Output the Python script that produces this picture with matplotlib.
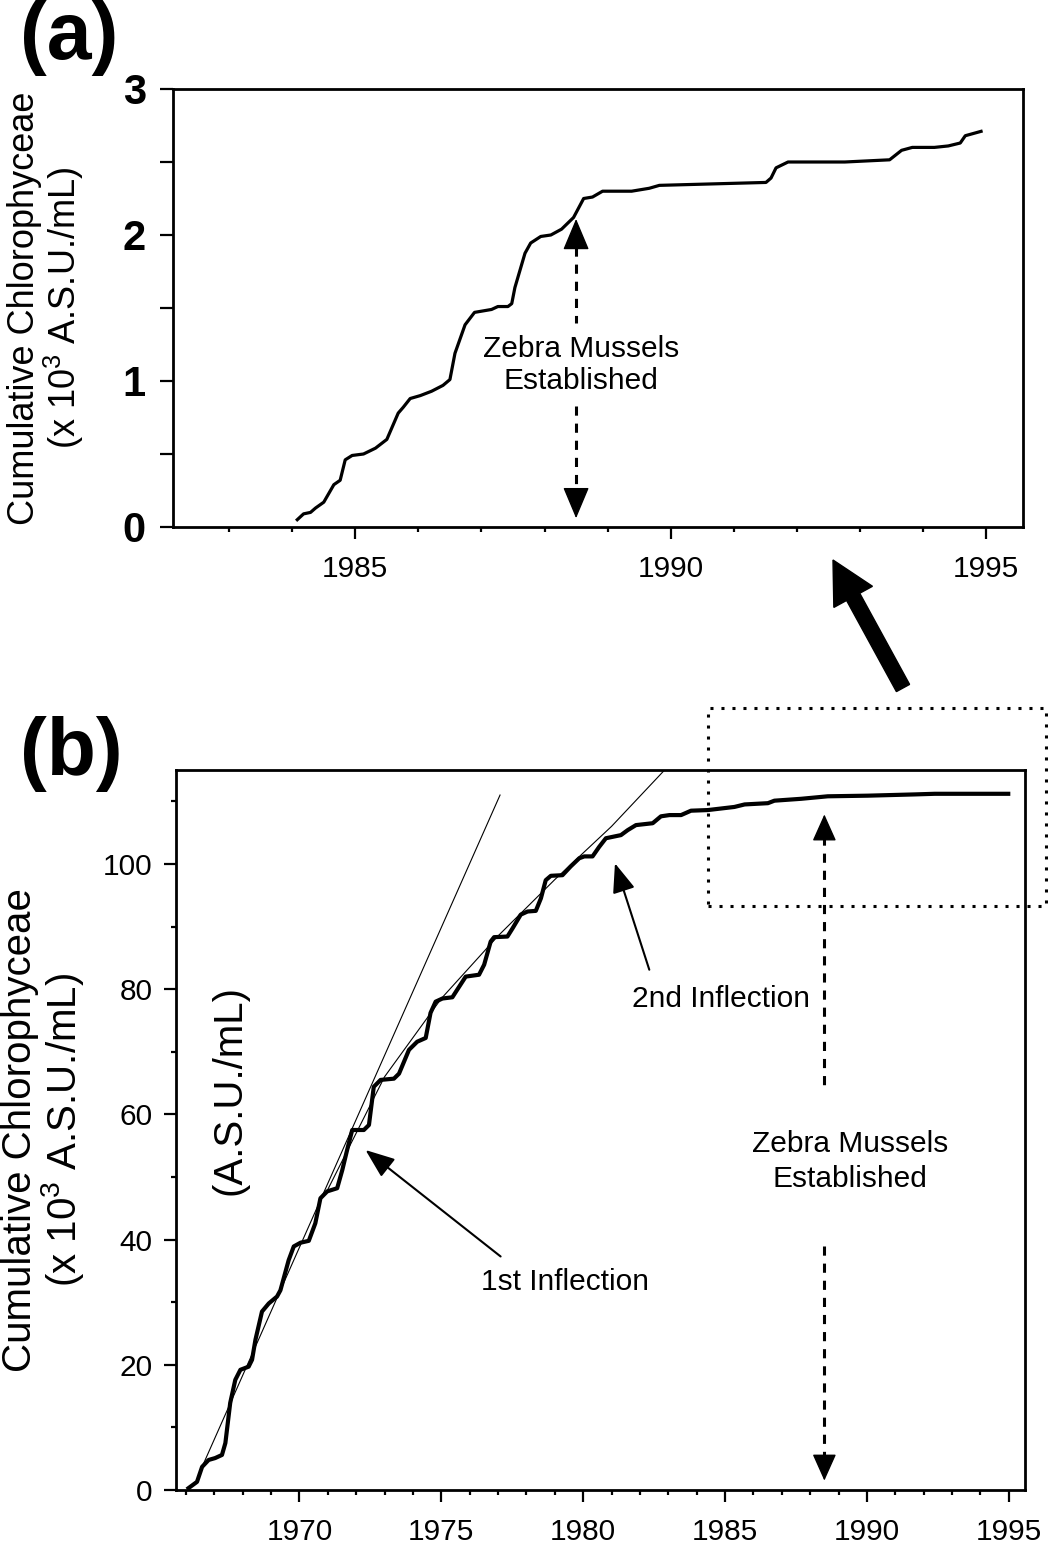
import matplotlib
matplotlib.use('Agg')
from matplotlib import pyplot as plt
from matplotlib.ticker import MultipleLocator
from matplotlib.patches import Rectangle, FancyArrow

plt.rcParams['font.family'] = ['Liberation Sans', 'DejaVu Sans']
plt.rcParams['mathtext.fontset'] = 'custom'
plt.rcParams['mathtext.rm'] = 'Liberation Sans'
plt.rcParams['mathtext.it'] = 'Liberation Sans'
plt.rcParams['mathtext.default'] = 'regular'

# (a) cumulative Chlorophyceae 1984-1995, x 10^3 A.S.U./mL
top_years = [1984.08, 1984.18, 1984.29, 1984.37, 1984.50, 1984.66, 1984.76, 1984.84,
             1984.95, 1985.13, 1985.32, 1985.50, 1985.68, 1985.76, 1985.87, 1986.03,
             1986.21, 1986.39, 1986.50, 1986.58, 1986.74, 1986.89, 1987.16, 1987.26,
             1987.42, 1987.48, 1987.53, 1987.69, 1987.78, 1987.94, 1988.10, 1988.27,
             1988.46, 1988.62, 1988.76, 1988.92, 1989.38, 1989.66, 1989.82, 1991.51,
             1991.59, 1991.67, 1991.86, 1992.76, 1993.47, 1993.66, 1993.83, 1994.18,
             1994.40, 1994.59, 1994.67, 1994.92]
top_vals = [0.05, 0.09, 0.10, 0.13, 0.17, 0.29, 0.32, 0.46,
            0.49, 0.50, 0.54, 0.60, 0.78, 0.82, 0.88, 0.90,
            0.93, 0.97, 1.01, 1.19, 1.385, 1.47, 1.49, 1.51,
            1.51, 1.53, 1.64, 1.875, 1.945, 1.99, 2.00, 2.04,
            2.12, 2.25, 2.26, 2.30, 2.30, 2.32, 2.34, 2.36,
            2.39, 2.46, 2.50, 2.50, 2.515, 2.58, 2.60, 2.60,
            2.61, 2.63, 2.68, 2.71]

# (b) cumulative Chlorophyceae 1966-1995
bot_years = [1966.09, 1966.39, 1966.57, 1966.80, 1967.03, 1967.27, 1967.39, 1967.56,
             1967.74, 1967.92, 1968.21, 1968.33, 1968.45, 1968.68, 1968.92, 1969.21,
             1969.33, 1969.62, 1969.80, 1970.04, 1970.33, 1970.56, 1970.74, 1970.98,
             1971.33, 1971.51, 1971.68, 1971.86, 1972.27, 1972.45, 1972.62, 1972.86,
             1973.33, 1973.51, 1973.86, 1974.15, 1974.45, 1974.62, 1974.80, 1975.04,
             1975.39, 1975.56, 1975.86, 1976.33, 1976.51, 1976.74, 1976.86, 1977.33,
             1977.51, 1977.80, 1978.04, 1978.33, 1978.51, 1978.68, 1978.86, 1979.27,
             1979.56, 1979.86, 1980.04, 1980.33, 1980.56, 1980.80, 1981.33, 1981.57,
             1981.86, 1982.45, 1982.74, 1983.04, 1983.45, 1983.80, 1984.39, 1985.33,
             1985.69, 1986.51, 1986.74, 1987.68, 1988.62, 1990.03, 1991.68, 1992.39,
             1994.98]
bot_vals = [0.3, 1.3, 3.7, 4.8, 5.1, 5.6, 7.5, 13.9,
            17.6, 19.2, 19.7, 20.8, 24.0, 28.5, 29.8, 30.9,
            31.9, 36.7, 38.9, 39.5, 39.8, 42.6, 46.6, 47.7,
            48.2, 51.1, 54.3, 57.5, 57.5, 58.3, 64.4, 65.5,
            65.7, 66.5, 70.3, 71.6, 72.2, 76.2, 78.0, 78.5,
            78.7, 79.9, 82.0, 82.3, 83.9, 87.6, 88.3, 88.4,
            89.7, 91.9, 92.4, 92.5, 94.5, 97.4, 98.1, 98.2,
            99.6, 100.9, 101.2, 101.2, 102.7, 104.1, 104.6, 105.4,
            106.2, 106.5, 107.6, 107.8, 107.8, 108.5, 108.6, 109.1,
            109.5, 109.7, 110.1, 110.4, 110.8, 110.9, 111.1, 111.2,
            111.2]

# thin fitted lines
fit1_years = [1966.6, 1977.07]
fit1_vals = [4.0, 111.0]
fit2_years = [1971.0, 1973.0, 1975.0, 1977.0, 1979.0, 1981.0, 1982.87]
fit2_vals = [48.0, 66.0, 78.5, 88.5, 97.5, 106.0, 115.0]

zm_year = 1988.5
ylab = 'Cumulative Chlorophyceae\n(x 10$^3$ A.S.U./mL)'

fig = plt.figure(figsize=(10.48, 15.54), dpi=100)
W, H = 1048, 1554

ax_a = fig.add_axes([173 / W, 1 - 527 / H, 849.7 / W, 438 / H])
ax_b = fig.add_axes([176 / W, 1 - 1490 / H, 848.7 / W, 720 / H])

for ax in (ax_a, ax_b):
    for s in ax.spines.values():
        s.set_linewidth(2.0)
    ax.xaxis.set_major_locator(MultipleLocator(5))
    ax.xaxis.set_minor_locator(MultipleLocator(1))
    ax.tick_params(which='both', direction='out', width=1.6, top=False, right=False)
    ax.tick_params(axis='x', which='major', length=8.5, pad=12, labelsize=21.5)
    ax.tick_params(axis='x', which='minor', length=3.5)

# ---- panel (a)
ax_a.plot(top_years, top_vals, color='k', lw=2.3)
ax_a.set_xlim(1982.11, 1995.58)
ax_a.set_ylim(0, 3)
ax_a.yaxis.set_major_locator(MultipleLocator(1))
ax_a.yaxis.set_minor_locator(MultipleLocator(0.5))
ax_a.tick_params(axis='y', which='both', length=9.5, pad=10, labelsize=30)
for lab in ax_a.get_yticklabels():
    lab.set_fontweight('bold')
ax_a.set_ylabel(ylab, fontsize=26, linespacing=1.0)
ax_a.yaxis.set_label_coords(-0.102, 0.5)

ax_a.plot([zm_year, zm_year], [1.92, 1.40], color='k', lw=2.2, dashes=(3, 2.6))
ax_a.plot([zm_year, zm_year], [0.83, 0.25], color='k', lw=2.2, dashes=(3, 2.6))
ax_a.annotate('', xy=(zm_year, 2.11), xytext=(zm_year, 1.91),
              arrowprops=dict(arrowstyle='-|>,head_length=1.0,head_width=0.42',
                              color='k', lw=1, shrinkA=0, shrinkB=0, mutation_scale=20))
ax_a.annotate('', xy=(zm_year, 0.06), xytext=(zm_year, 0.25),
              arrowprops=dict(arrowstyle='-|>,head_length=1.0,head_width=0.42',
                              color='k', lw=1, shrinkA=0, shrinkB=0, mutation_scale=20))
ax_a.text(zm_year + 0.08, 1.11, 'Zebra Mussels\nEstablished', fontsize=21.5,
          ha='center', va='center', linespacing=1.2)

# ---- panel (b)
ax_b.plot(bot_years, bot_vals, color='k', lw=3.0, zorder=3)
ax_b.plot(fit1_years, fit1_vals, color='k', lw=0.8)
ax_b.plot(fit2_years, fit2_vals, color='k', lw=0.8)
ax_b.set_xlim(1965.65, 1995.56)
ax_b.set_ylim(0, 115)
ax_b.yaxis.set_major_locator(MultipleLocator(20))
ax_b.yaxis.set_minor_locator(MultipleLocator(10))
ax_b.tick_params(axis='y', which='major', length=9, pad=8, labelsize=21.5)
ax_b.tick_params(axis='y', which='minor', length=3.5)
ax_b.set_ylabel(ylab, fontsize=29, linespacing=1.0)
ax_b.yaxis.set_label_coords(-0.106, 0.5)
ax_b.text(1967.53, 63.9, '(A.S.U./mL)', fontsize=29, rotation=90,
          ha='center', va='center')

ax_b.annotate('', xy=(1972.33, 54.3), xytext=(1977.09, 37.3),
              arrowprops=dict(arrowstyle='-|>,head_length=0.9,head_width=0.35',
                              color='k', lw=1.5, shrinkA=0, shrinkB=0, mutation_scale=20))
ax_b.text(1979.35, 33.2, '1st Inflection', fontsize=21.5, ha='center', va='center')
ax_b.annotate('', xy=(1981.12, 100.1), xytext=(1982.33, 83.1),
              arrowprops=dict(arrowstyle='-|>,head_length=0.9,head_width=0.35',
                              color='k', lw=1.5, shrinkA=0, shrinkB=0, mutation_scale=20))
ax_b.text(1984.85, 78.4, '2nd Inflection', fontsize=21.5, ha='center', va='center')

ax_b.plot([zm_year, zm_year], [104.4, 64.0], color='k', lw=2.2, dashes=(3, 2.6))
ax_b.plot([zm_year, zm_year], [39.0, 4.8], color='k', lw=2.2, dashes=(3, 2.6))
ax_b.annotate('', xy=(zm_year, 107.9), xytext=(zm_year, 104.3),
              arrowprops=dict(arrowstyle='-|>,head_length=0.85,head_width=0.38',
                              color='k', lw=1, shrinkA=0, shrinkB=0, mutation_scale=20))
ax_b.annotate('', xy=(zm_year, 1.5), xytext=(zm_year, 5.0),
              arrowprops=dict(arrowstyle='-|>,head_length=0.85,head_width=0.38',
                              color='k', lw=1, shrinkA=0, shrinkB=0, mutation_scale=20))
ax_b.text(zm_year + 0.9, 52.5, 'Zebra Mussels\nEstablished', fontsize=21.5,
          ha='center', va='center', linespacing=1.3)

# dotted box marking the zoomed region shown in (a)
ax_b.add_patch(Rectangle((1984.4, 93.3), 11.9, 31.6, fill=False, clip_on=False,
                         lw=2.2, linestyle=(0, (1, 2.6)), color='k'))

# big arrow from box up to panel (a)
fig.add_artist(FancyArrow(9.03, 8.66, -0.70, 1.28, width=0.15, head_width=0.44,
                          head_length=0.42, length_includes_head=True,
                          color='k', transform=fig.dpi_scale_trans))

fig.text(20 / W, 1 - 0 / H, '(a)', fontsize=58, fontweight='bold', va='top', ha='left')
fig.text(20 / W, 1 - 716 / H, '(b)', fontsize=58, fontweight='bold', va='top', ha='left')

fig.savefig('out.png', dpi=100)
